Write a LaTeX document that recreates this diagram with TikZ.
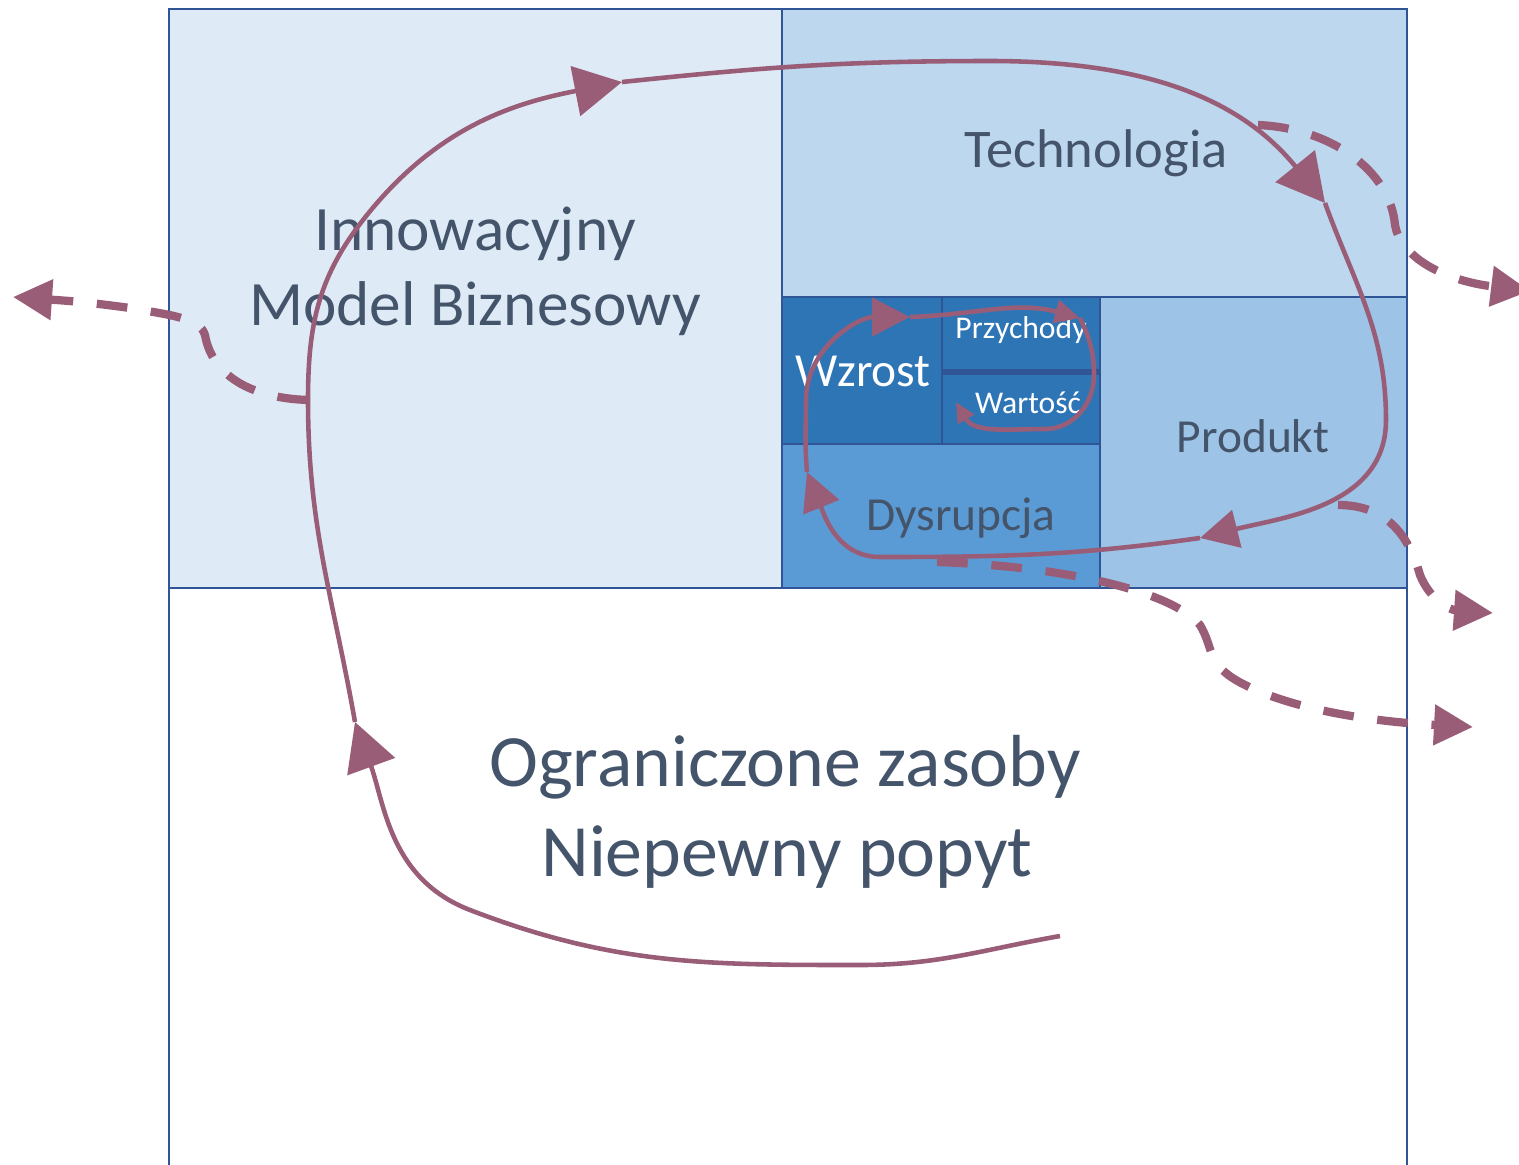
\documentclass[tikz,border=0pt]{standalone}
\usepackage{fontspec}
\setmainfont{Carlito}
\usetikzlibrary{arrows.meta}

\definecolor{boxline}{HTML}{2F5597}
\definecolor{modelfill}{HTML}{DEEBF7}
\definecolor{techfill}{HTML}{BDD7EE}
\definecolor{prodfill}{HTML}{9DC3E6}
\definecolor{dysfill}{HTML}{5B9BD5}
\definecolor{growfill}{HTML}{2E75B6}
\definecolor{labeltext}{HTML}{44546A}
\definecolor{loopline}{HTML}{9A5D77}

\tikzset{
  box/.style={draw=boxline, line width=1.2pt},
  boxtext/.style={anchor=base, inner sep=0pt, text=labeltext},
  cycleline/.style={draw=loopline, line width=2.6pt, line join=round},
  leakline/.style={draw=loopline, line width=4.7pt, dash pattern=on 17.5pt off 13.5pt,
    -{Triangle[length=0.78cm, width=0.78cm, fill=loopline]}},
  bighead/.style={-{Triangle[length=0.95cm, width=1.0cm, fill=loopline]}},
  midhead/.style={-{Triangle[length=0.76cm, width=0.76cm, fill=loopline]}},
  smallhead/.style={-{Triangle[length=0.5cm, width=0.46cm, fill=loopline]}},
  tinyhead/.style={-{Triangle[length=0.4cm, width=0.36cm, fill=loopline]}}
}

\begin{document}
\begin{tikzpicture}[x=0.02cm, y=0.02cm]
	\useasboundingbox (0,0) rectangle (1519,-1164);

	% boxes
	\draw[box, fill=modelfill] (169,-9) rectangle (782,-588);
	\draw[box, fill=techfill] (782,-9) rectangle (1407,-297);
	\draw[box, fill=prodfill] (1100,-297) rectangle (1407,-588);
	\draw[box, fill=dysfill] (782,-444) rectangle (1100,-588);
	\draw[box, fill=growfill] (782,-297) rectangle (942,-444);
	\draw[box, fill=growfill] (942,-297) rectangle (1100,-372);
	\draw[box, fill=growfill] (942,-372) rectangle (1100,-444);
	\draw[boxline, line width=3.4pt] (942,-372) -- (1100,-372);
	\draw[box] (169,-588) rectangle (1407,-1200);

	% texts
	\node (model1) at (475,-250)[boxtext, font=\fontsize{36}{42}\selectfont]{Innowacyjny};
	\node (model2) at (475,-325)[boxtext, font=\fontsize{36}{42}\selectfont]{Model Biznesowy};
	\node (tech) at (1096,-167)[boxtext, font=\fontsize{31}{36}\selectfont]{Technologia};
	\node (prod) at (1253,-452)[boxtext, font=\fontsize{27}{32}\selectfont]{Produkt};
	\node (dys) at (961,-530)[boxtext, font=\fontsize{27}{32}\selectfont]{Dysrupcja};
	\node (grow) at (863,-386)[boxtext, text=white, font=\fontsize{27}{32}\selectfont]{Wzrost};
	\node (income) at (1021,-338)[boxtext, text=white, font=\fontsize{18}{22}\selectfont]{Przychody};
	\node (worth) at (1028,-413)[boxtext, text=white, font=\fontsize{18}{22}\selectfont]{Wartość};
	\node (limits1) at (785,-786)[boxtext, font=\fontsize{42}{48}\selectfont]{Ograniczone zasoby};
	\node (limits2) at (787,-876)[boxtext, font=\fontsize{42}{48}\selectfont]{Niepewny popyt};

	% spiral
	\coordinate (s0) at (1060,-936);
	\coordinate (a1) at (355,-722);
	\coordinate (a2) at (622,-82);
	\coordinate (a3) at (1325,-203);
	\coordinate (a4) at (1200,-538);
	\coordinate (a5) at (807,-472);
	\coordinate (a6) at (910,-317);
	\coordinate (a7) at (1080,-318);
	\coordinate (a8) at (956,-402);
	\coordinate (outl) at (308,-400);
	\coordinate (outt) at (1258,-125);
	\coordinate (outr) at (1338,-505);
	\coordinate (outb) at (937,-562);

	\draw[cycleline, bighead] (s0) to[out=190,in=0] (860,-965) to[out=180,in=-21] (470,-910) to[out=159,in=-70] (a1);
	\draw[cycleline, bighead] (a1) to[out=100,in=-90] (outl) to[out=90,in=232] (363,-220) to[out=52,in=191] (a2);
	\draw[cycleline, bighead] (a2) to[out=6,in=180] (990,-61) to[out=0,in=129] (a3);
	\draw[cycleline, midhead] (a3) to[out=-70,in=90] (1386,-420) to[out=-90,in=14] (a4);
	\draw[cycleline, midhead] (a4) to[out=188,in=0] (880,-557) to[out=180,in=-68] (a5);
	\draw[cycleline, midhead] (a5) to[out=95,in=-90] (806,-400) to[out=90,in=180] (a6);
	\draw[cycleline, smallhead] (a6) to[out=2,in=165] (a7);
	\draw[cycleline, tinyhead] (a7) to[out=-65,in=90] (1094,-375) to[out=-90,in=0] (1045,-429) to[out=180,in=-60] (a8);

	% leaks
	\draw[leakline] (outl) .. controls (250,-398) and (212,-375) .. (205,-335)
		.. controls (200,-318) and (170,-315) .. (130,-308) to[out=172,in=-4] (13,-297);
	\draw[leakline] (outt) .. controls (1330,-128) and (1390,-170) .. (1395,-225)
		.. controls (1400,-255) and (1440,-280) .. (1530,-291);
	\draw[leakline] (outr) .. controls (1390,-505) and (1410,-540) .. (1420,-575)
		.. controls (1430,-600) and (1450,-610) .. (1493,-613);
	\draw[leakline] (outb) .. controls (1060,-566) and (1170,-590) .. (1200,-625)
		.. controls (1215,-650) and (1205,-665) .. (1245,-685)
		.. controls (1300,-712) and (1380,-722) .. (1473,-727);
\end{tikzpicture}
\end{document}
